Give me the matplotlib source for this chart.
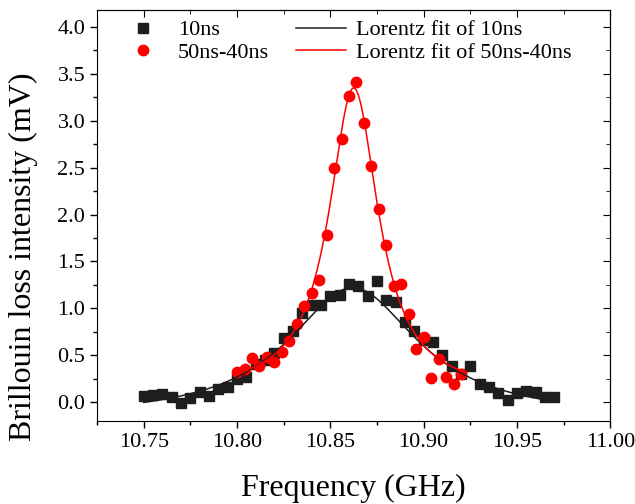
import numpy as np
import matplotlib
matplotlib.use("Agg")
import matplotlib.pyplot as plt
from matplotlib.ticker import MultipleLocator, FormatStrFormatter

plt.rcParams['font.family'] = ['Liberation Serif', 'DejaVu Serif']

# 10ns data (black squares)
freq_10 = [10.750, 10.755, 10.760, 10.765, 10.770, 10.775, 10.780, 10.785, 10.790, 10.795,
           10.800, 10.805, 10.810, 10.815, 10.820, 10.825, 10.830, 10.835, 10.840, 10.845,
           10.850, 10.855, 10.860, 10.865, 10.870, 10.875, 10.880, 10.885, 10.890, 10.895,
           10.900, 10.905, 10.910, 10.915, 10.920, 10.925, 10.930, 10.935, 10.940, 10.945,
           10.950, 10.955, 10.960, 10.965, 10.970]
loss_10 = [0.07, 0.08, 0.09, 0.05, -0.01, 0.04, 0.11, 0.07, 0.14, 0.16,
           0.25, 0.27, 0.41, 0.45, 0.52, 0.68, 0.76, 0.955, 1.03, 1.03,
           1.13, 1.14, 1.26, 1.24, 1.13, 1.29, 1.09, 1.07, 0.85, 0.76,
           0.66, 0.645, 0.50, 0.38, 0.30, 0.39, 0.19, 0.16, 0.10, 0.02,
           0.10, 0.12, 0.11, 0.05, 0.05]

# 50ns-40ns data (red circles)
freq_diff = [10.800, 10.804, 10.808, 10.812, 10.816, 10.820, 10.824, 10.828, 10.832, 10.836,
             10.840, 10.844, 10.848, 10.852, 10.856, 10.860, 10.864, 10.868, 10.872, 10.876,
             10.880, 10.884, 10.888, 10.892, 10.896, 10.900, 10.904, 10.908, 10.912, 10.916,
             10.920]
loss_diff = [0.32, 0.35, 0.47, 0.38, 0.48, 0.43, 0.53, 0.65, 0.83, 1.02,
             1.16, 1.30, 1.78, 2.50, 2.80, 3.26, 3.41, 2.98, 2.52, 2.06,
             1.68, 1.24, 1.26, 0.94, 0.57, 0.69, 0.26, 0.46, 0.27, 0.19,
             0.30]

# Lorentz fit parameters: offset, height, centre, FWHM
fit_10 = (-0.18, 1.40, 10.862, 0.085)
fit_diff = (0.10, 3.25, 10.8625, 0.0322)


def lorentz(x, y0, h, xc, w):
    return y0 + h / (1 + (2 * (x - xc) / w) ** 2)


fig = plt.figure(figsize=(6.35, 5.04), dpi=100)
ax = fig.add_axes([0.153, 0.165, 0.808, 0.815])

x1 = np.linspace(freq_10[0], freq_10[-1], 400)
x2 = np.linspace(freq_diff[0], freq_diff[-1], 400)

sq, = ax.plot(freq_10, loss_10, 's', color='#1e1e1e', ms=6.5, mec='#1e1e1e', label='10ns')
ci, = ax.plot(freq_diff, loss_diff, 'o', color='red', ms=7.5, mec='red', label='50ns-40ns')
l1, = ax.plot(x1, lorentz(x1, *fit_10), color='#1e1e1e', lw=1.1, label='Lorentz fit of 10ns')
l2, = ax.plot(x2, lorentz(x2, *fit_diff), color='red', lw=1.1, label='Lorentz fit of 50ns-40ns')

ax.set_xlim(10.725, 11.0)
ax.set_ylim(-0.2, 4.18)
ax.xaxis.set_major_locator(MultipleLocator(0.05))
ax.xaxis.set_minor_locator(MultipleLocator(0.025))
ax.yaxis.set_major_locator(MultipleLocator(0.5))
ax.yaxis.set_minor_locator(MultipleLocator(0.25))
ax.xaxis.set_major_formatter(FormatStrFormatter('%.2f'))
ax.yaxis.set_major_formatter(FormatStrFormatter('%.1f'))
ax.tick_params(which='major', direction='out', length=5, width=1, labelsize=16)
ax.tick_params(which='minor', direction='out', length=3, width=1)

# inward ticks on the top and right
top = ax.secondary_xaxis('top')
top.xaxis.set_major_locator(MultipleLocator(0.05))
top.xaxis.set_minor_locator(MultipleLocator(0.025))
top.tick_params(which='both', direction='in', labeltop=False)
top.tick_params(which='major', length=5)
top.tick_params(which='minor', length=3)
right = ax.secondary_yaxis('right')
right.yaxis.set_major_locator(MultipleLocator(0.5))
right.yaxis.set_minor_locator(MultipleLocator(0.25))
right.tick_params(which='both', direction='in', labelright=False)
right.tick_params(which='major', length=5)
right.tick_params(which='minor', length=3)

ax.set_xlabel('Frequency (GHz)', fontsize=23, labelpad=16)
ax.set_ylabel('Brillouin loss intensity (mV)', fontsize=23)
ax.yaxis.set_label_coords(-0.115, 0.40)

ax.legend(handles=[sq, ci, l1, l2], ncol=2, frameon=False, fontsize=16,
          loc='upper left', bbox_to_anchor=(0.002, 1.025), handlelength=2.25,
          columnspacing=1.2, handletextpad=0.45, labelspacing=0.1)

fig.savefig('out.png', dpi=100)
